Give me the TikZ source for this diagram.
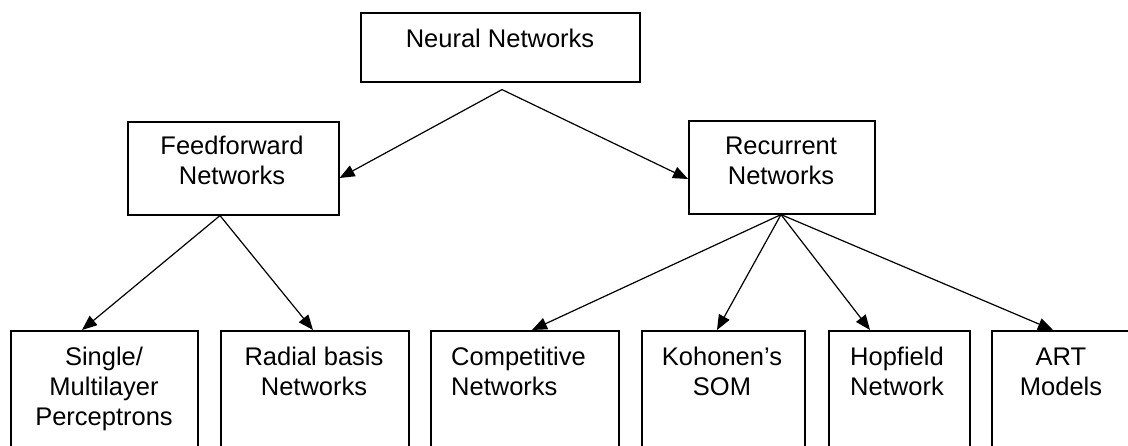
\documentclass[tikz,border=0pt]{standalone}
\usepackage{fontspec}
\setmainfont{Liberation Sans}
\usetikzlibrary{arrows.meta,calc}

\begin{document}
\begin{tikzpicture}[x=1pt,y=-1pt,
  box/.style={draw,line width=1.6pt,inner sep=0pt,anchor=north west},
  lbl/.style={font=\fontsize{25.5}{30}\selectfont,align=center,inner sep=0pt,anchor=north},
  arr/.style={line width=1.2pt,-{Triangle[length=15pt,width=12pt]}}]

  \useasboundingbox (0,0) rectangle (1128,446);

  % boxes
  \node[box,minimum width=279pt,minimum height=69pt] (nn)  at (360,12) {};
  \node[box,minimum width=211pt,minimum height=93pt] (ff)  at (127,121) {};
  \node[box,minimum width=186pt,minimum height=93pt] (rec) at (688,120) {};

  \node[box,minimum width=187pt,minimum height=130pt] (single) at (10,330) {};
  \node[box,minimum width=188pt,minimum height=130pt] (radial) at (220,330) {};
  \node[box,minimum width=188pt,minimum height=130pt] (comp)   at (430,330) {};
  \node[box,minimum width=163pt,minimum height=130pt] (koh)    at (641,330) {};
  \node[box,minimum width=141pt,minimum height=130pt] (hop)    at (828,330) {};
  \node[box,minimum width=143pt,minimum height=130pt] (art)    at (991,330) {};

  % labels
  \node[lbl] (nnT)  at (500,26)  {\strut Neural Networks};
  \node[lbl] (ffT)  at (232,133) {\strut Feedforward\\Networks};
  \node[lbl] (recT) at (781,133) {\strut Recurrent\\Networks};

  \node[lbl] (singleT) at (104,344) {\strut Single/\\Multilayer\\Perceptrons};
  \node[lbl] (radialT) at (314,344) {\strut Radial basis\\Networks};
  \node[lbl,align=left,anchor=north west] (compT) at (451,344) {\strut Competitive\\Networks};
  \node[lbl] (kohT) at (722,344)  {\strut Kohonen’s\\SOM};
  \node[lbl] (hopT) at (897,344)  {\strut Hopfield\\Network};
  \node[lbl] (artT) at (1061,344) {\strut ART\\Models};

  % branching points
  \coordinate (nnA)  at ($(nn.south west)+(142,7)$);
  \coordinate (ffA)  at ($(ff.south west)+(93,0)$);
  \coordinate (recA) at ($(rec.south west)+(93,0)$);

  % connectors
  \draw[arr] (nnA) -- ($(ff.north east)+(0,57)$);
  \draw[arr] (nnA) -- ($(rec.north west)+(0,59)$);

  \draw[arr] (ffA) -- ($(single.north west)+(72,0)$);
  \draw[arr] (ffA) -- ($(radial.north west)+(93,0)$);

  \draw[arr] (recA) -- ($(comp.north west)+(102,0)$);
  \draw[arr] (recA) -- ($(koh.north west)+(76,0)$);
  \draw[arr] (recA) -- ($(hop.north west)+(42,0)$);
  \draw[arr] (recA) -- ($(art.north west)+(62,0)$);
\end{tikzpicture}
\end{document}
